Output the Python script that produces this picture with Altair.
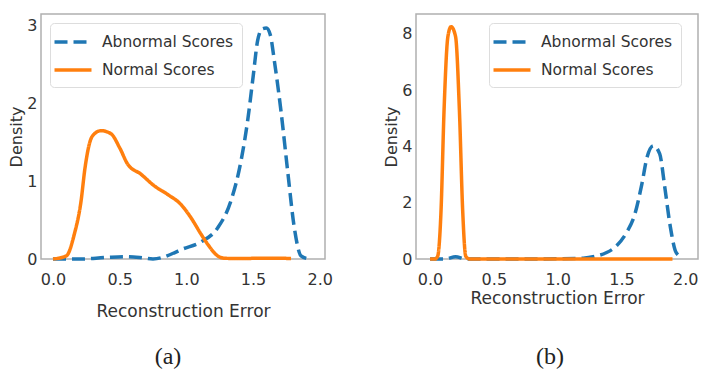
import altair as alt
import pandas as pd

# ---- data ----
series_names = ["Abnormal Scores", "Normal Scores"]

a_norm_x = [0.00, 0.10, 0.16, 0.21, 0.24, 0.295, 0.36, 0.435, 0.50, 0.56, 0.66, 0.76, 0.86, 0.96, 1.035, 1.11, 1.16, 1.235, 1.285, 1.40, 1.55, 1.70, 1.785]
a_norm_y = [0.00, 0.04, 0.32, 0.74, 1.17, 1.58, 1.65, 1.61, 1.43, 1.22, 1.09, 0.94, 0.83, 0.70, 0.53, 0.32, 0.19, 0.04, 0.01, 0.005, 0.01, 0.01, 0.005]

a_abn_x = [0.00, 0.20, 0.40, 0.55, 0.65, 0.75, 0.91, 0.96, 1.11, 1.235, 1.335, 1.41, 1.46, 1.50, 1.535, 1.57, 1.60, 1.63, 1.66, 1.71, 1.76, 1.81, 1.86, 1.92]
a_abn_y = [0.00, 0.00, 0.02, 0.03, 0.02, 0.00, 0.08, 0.12, 0.22, 0.40, 0.75, 1.26, 1.78, 2.33, 2.81, 2.96, 2.97, 2.88, 2.55, 1.90, 1.13, 0.40, 0.04, 0.00]

b_norm_x = [0.00, 0.04, 0.06, 0.086, 0.11, 0.14, 0.165, 0.20, 0.23, 0.256, 0.28, 0.31, 0.60, 1.00, 1.50, 1.90]
b_norm_y = [0.00, 0.00, 0.10, 1.70, 5.30, 7.90, 8.25, 7.90, 5.30, 1.70, 0.10, 0.00, 0.00, 0.00, 0.00, 0.00]

b_abn_x = [0.00, 0.12, 0.20, 0.28, 0.40, 0.80, 1.20, 1.30, 1.38, 1.46, 1.54, 1.605, 1.66, 1.70, 1.75, 1.80, 1.84, 1.88, 1.93, 1.98]
b_abn_y = [0.00, 0.00, 0.08, 0.00, 0.00, 0.00, 0.03, 0.10, 0.22, 0.46, 0.94, 1.59, 2.66, 3.60, 4.02, 3.73, 2.54, 1.23, 0.22, 0.05]

x_ticks = [0.0, 0.5, 1.0, 1.5, 2.0]
a_y_ticks = [0, 1, 2, 3]
b_y_ticks = [0, 2, 4, 6, 8]


def frame(xs_abn, ys_abn, xs_norm, ys_norm):
    d1 = pd.DataFrame({"x": xs_abn, "y": ys_abn, "series": series_names[0]})
    d2 = pd.DataFrame({"x": xs_norm, "y": ys_norm, "series": series_names[1]})
    return pd.concat([d1, d2], ignore_index=True)


df_a = frame(a_abn_x, a_abn_y, a_norm_x, a_norm_y)
df_b = frame(b_abn_x, b_abn_y, b_norm_x, b_norm_y)

TXT = "#333333"


def panel(df, xdom, ydom, yticks, lx, ly, x_title_pad, caption, cap_offset, cap_dx, width):
    leg = alt.Legend(
        title=None, orient="none", legendX=lx, legendY=ly,
        symbolType="M-2,0H2", symbolSize=342, symbolStrokeWidth=3.5, symbolOffset=4,
        labelFontSize=15.5, labelColor=TXT, labelFont="DejaVu Sans", labelOffset=18,
        strokeColor="#dddddd", fillColor="white", cornerRadius=4, padding=8,
        rowPadding=8,
    )
    return alt.Chart(df).mark_line(strokeWidth=3.5, interpolate="monotone").encode(
        x=alt.X("x:Q", scale=alt.Scale(domain=xdom, nice=False, zero=False),
                axis=alt.Axis(values=x_ticks, format=".1f", title="Reconstruction Error",
                              titlePadding=x_title_pad)),
        y=alt.Y("y:Q", scale=alt.Scale(domain=ydom, nice=False),
                axis=alt.Axis(values=yticks, format="d", title="Density")),
        color=alt.Color("series:N", scale=alt.Scale(domain=series_names, range=["#1f77b4", "#ff7f0e"]),
                        legend=leg),
        strokeDash=alt.StrokeDash("series:N", scale=alt.Scale(domain=series_names, range=[[13, 6], [1, 0]]),
                                  legend=leg),
    ).properties(
        width=width, height=245,
        title=alt.TitleParams(caption, orient="bottom", anchor="middle", frame="group",
                              font="Liberation Serif", fontSize=24, fontWeight="normal",
                              color="#222222", offset=cap_offset, dx=cap_dx),
    )


pa = panel(df_a, [-0.09, 2.04], [0, 3.15], a_y_ticks, 9, 9, 16, "(a)", 26, -15, 284)
pb = panel(df_b, [-0.11, 2.10], [0, 8.7], b_y_ticks, 73, 9, 3, "(b)", 39, -7, 282)

chart = alt.hconcat(pa, pb, spacing=49).resolve_scale(
    color="independent", strokeDash="independent"
).resolve_legend(
    color="independent", strokeDash="independent"
).properties(
    padding={"left": 0, "top": 5, "right": 0, "bottom": 0}
).configure(
    background="white"
).configure_view(
    stroke="#b0b0b0", strokeWidth=1.5
).configure_axis(
    grid=False, ticks=False, domain=False,
    labelFont="DejaVu Sans", labelFontSize=16, labelColor=TXT,
    titleFont="DejaVu Sans", titleFontSize=17, titleColor=TXT, titleFontWeight="normal",
).configure_axisX(
    labelPadding=12
).configure_axisY(
    titlePadding=2, labelPadding=4, titleFontSize=16
)

chart.save("out.html", embed_options={"renderer": "svg", "actions": False})
